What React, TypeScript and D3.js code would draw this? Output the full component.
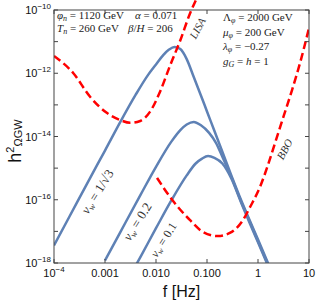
import React from "react";
import * as d3 from "d3";

// plot frame in px
const W = 316, H = 304;
const margin = { top: 10, right: 7, bottom: 41, left: 54 };

// v_w = 1/sqrt(3)
const freqA = [1e-4, 2e-4, 5e-4, 1e-3, 2e-3, 4e-3, 7e-3, 0.01, 0.014, 0.018, 0.023, 0.03, 0.04, 0.055, 0.075, 0.1, 0.14, 0.2, 0.3, 0.47, 0.7, 1.0, 1.6];
const omegaA = [3.6e-18, 2.9e-17, 4.6e-16, 3.6e-15, 2.9e-14, 2.1e-13, 8.9e-13, 1.9e-12, 3.8e-12, 5.6e-12, 6.8e-12, 5.8e-12, 2.8e-12, 7.6e-13, 2.1e-13, 6.2e-14, 1.5e-14, 3.3e-15, 5.9e-16, 9.5e-17, 2.1e-17, 5.5e-18, 9.3e-19];

// v_w = 0.2
const freqB = [1e-3, 2e-3, 5e-3, 0.01, 0.02, 0.03, 0.04, 0.055, 0.075, 0.11, 0.15, 0.2, 0.3, 0.47, 0.7, 1.0, 1.6];
const omegaB = [1.2e-18, 9.5e-18, 1.45e-16, 1.1e-15, 6.9e-15, 1.6e-14, 2.4e-14, 2.9e-14, 2.3e-14, 1.3e-14, 6.3e-15, 2.3e-15, 5.2e-16, 8.5e-17, 1.9e-17, 4.9e-18, 8.3e-19];

// v_w = 0.1
const freqC = [4e-3, 5e-3, 0.01, 0.02, 0.04, 0.06, 0.08, 0.105, 0.14, 0.2, 0.3, 0.47, 0.7, 1.0, 1.6];
const omegaC = [8.3e-19, 1.6e-18, 1.26e-17, 9.5e-17, 5.9e-16, 1.4e-15, 2.0e-15, 2.4e-15, 2.1e-15, 1.4e-15, 4.7e-16, 7.9e-17, 1.7e-17, 4.5e-18, 7.6e-19];

// sensitivity curves
const freqLISA = [1e-4, 2.4e-4, 5.1e-4, 1.1e-3, 2.0e-3, 3.1e-3, 4.9e-3, 7.6e-3, 0.012, 0.019, 0.03, 0.046, 0.061];
const omegaLISA = [3.5e-12, 1.0e-12, 1.8e-13, 5.5e-14, 3.3e-14, 2.7e-14, 3.1e-14, 6.0e-14, 2.6e-13, 1.8e-12, 1.1e-11, 7.5e-11, 2.1e-10];

const freqBBO = [0.0105, 0.019, 0.046, 0.084, 0.164, 0.28, 0.51, 0.7, 1.09, 1.57, 2.25, 3.24, 4.65, 6.67, 10];
const omegaBBO = [4.9e-16, 1.2e-16, 2.3e-17, 9.5e-18, 7.1e-18, 8.9e-18, 2.3e-17, 5.9e-17, 2.5e-16, 1.26e-15, 7.7e-15, 4.8e-14, 2.95e-13, 2.1e-12, 2.7e-11];

// ticks
const xTicks = [1e-4, 1e-3, 0.01, 0.1, 1, 10];
const xTickLabels = [["10", "−4"], ["0.001", ""], ["0.010", ""], ["0.100", ""], ["1", ""], ["10", ""]];
const yTicks = [1e-18, 1e-17, 1e-16, 1e-15, 1e-14, 1e-13, 1e-12, 1e-11, 1e-10];
const yLabelExps = [-10, -12, -14, -16, -18];

const blue = "#5e81b5";
const red = "#ff0000";
const frame = "#444";
const serif = "'Liberation Serif', 'DejaVu Serif', serif";
const sans = "'Liberation Sans', Arial, sans-serif";

const App = () => {
  const x0 = margin.left, x1 = W - margin.right;
  const y0 = H - margin.bottom, y1 = margin.top;

  const x = d3.scaleLog().domain([1e-4, 10]).range([x0, x1]);
  const y = d3.scaleLog().domain([1e-18, 1e-10]).range([y0, y1]);

  const line = d3
    .line<[number, number]>()
    .x((d) => x(d[0]))
    .y((d) => y(d[1]))
    .curve(d3.curveMonotoneX);

  const zip = (f: number[], o: number[]) => f.map((v, i) => [v, o[i]] as [number, number]);

  const blues = [zip(freqA, omegaA), zip(freqB, omegaB), zip(freqC, omegaC)];
  const reds = [zip(freqLISA, omegaLISA), zip(freqBBO, omegaBBO)];

  return (
    <svg width={W} height={H} style={{ position: "absolute", left: 0, top: 0 }}>
      <defs>
        <clipPath id="plot">
          <rect x={x0} y={0} width={x1 - x0} height={y0} />
        </clipPath>
      </defs>

      <g clipPath="url(#plot)" fill="none">
        {blues.map((d, i) => (
          <path key={"b" + i} d={line(d) || ""} stroke={blue} strokeWidth={2.5} />
        ))}
        {reds.map((d, i) => (
          <path key={"r" + i} d={line(d) || ""} stroke={red} strokeWidth={2.5} strokeDasharray="8,4" />
        ))}
      </g>

      {/* frame and ticks */}
      <rect x={x0} y={y1} width={x1 - x0} height={y0 - y1} fill="none" stroke={frame} strokeWidth={1} />
      {xTicks.map((t) => (
        <g key={"xt" + t} stroke={frame}>
          <line x1={x(t)} x2={x(t)} y1={y0} y2={y0 - 4} />
          <line x1={x(t)} x2={x(t)} y1={y1} y2={y1 + 4} />
        </g>
      ))}
      {yTicks.map((t) => (
        <g key={"yt" + t} stroke={frame}>
          <line x1={x0} x2={x0 + 4} y1={y(t)} y2={y(t)} />
          <line x1={x1} x2={x1 - 4} y1={y(t)} y2={y(t)} />
        </g>
      ))}

      {/* tick labels */}
      {xTicks.map((t, i) => (
        <text key={"xl" + t} x={x(t)} y={y0 + 14} textAnchor="middle" fontFamily={sans} fontSize={11} fill="#111">
          {xTickLabels[i][0]}
          {xTickLabels[i][1] && (
            <tspan fontSize={8} dy={-5}>{xTickLabels[i][1]}</tspan>
          )}
        </text>
      ))}
      {yLabelExps.map((e) => (
        <text key={"yl" + e} x={x0 - 3} y={y(Math.pow(10, e)) + 4} textAnchor="end" fontFamily={sans} fontSize={11} fill="#111">
          10<tspan fontSize={8} dy={-5}>{"−" + Math.abs(e)}</tspan>
        </text>
      ))}

      {/* axis titles */}
      <text x={(x0 + x1) / 2} y={297} textAnchor="middle" fontFamily={sans} fontSize={16} fill="#111">
        f [Hz]
      </text>
      <text transform="translate(21,141) rotate(-90)" textAnchor="middle" fontFamily={sans} fill="#111">
        <tspan fontSize={18}>h</tspan>
        <tspan fontSize={11} dy={-7}>2</tspan>
        <tspan fontSize={11} dy={8}>ΩGW</tspan>
      </text>

      {/* parameter annotations */}
      <g fontFamily={serif} fontSize={11} fill="#222">
        <text x={57} y={19}>
          <tspan fontStyle="italic">φ</tspan>
          <tspan fontStyle="italic" fontSize={8} dy={2}>n</tspan>
          <tspan dy={-2}> = 1120 GeV</tspan>
        </text>
        <text x={135} y={19}>
          <tspan fontStyle="italic">α</tspan> = 0.071
        </text>
        <text x={57} y={32}>
          <tspan fontStyle="italic">T</tspan>
          <tspan fontStyle="italic" fontSize={8} dy={2}>n</tspan>
          <tspan dy={-2}> = 260 GeV</tspan>
        </text>
        <text x={128} y={32}>
          <tspan fontStyle="italic">β</tspan>/<tspan fontStyle="italic">H</tspan> = 206
        </text>
        <text x={223} y={21}>
          Λ<tspan fontStyle="italic" fontSize={8} dy={2}>φ</tspan>
          <tspan dy={-2}> = 2000 GeV</tspan>
        </text>
        <text x={223} y={35.5}>
          <tspan fontStyle="italic">μ</tspan>
          <tspan fontStyle="italic" fontSize={8} dy={2}>φ</tspan>
          <tspan dy={-2}> = 200 GeV</tspan>
        </text>
        <text x={223} y={50}>
          <tspan fontStyle="italic">λ</tspan>
          <tspan fontStyle="italic" fontSize={8} dy={2}>φ</tspan>
          <tspan dy={-2}> = −0.27</tspan>
        </text>
        <text x={223} y={64.5}>
          <tspan fontStyle="italic">g</tspan>
          <tspan fontStyle="italic" fontSize={8} dy={2}>G</tspan>
          <tspan dy={-2}> = </tspan>
          <tspan fontStyle="italic">h</tspan> = 1
        </text>
      </g>

      {/* curve labels */}
      <g fontFamily={serif} fill="#333" textAnchor="middle">
        <text transform="translate(201,30) rotate(-62)" fontSize={11} fontStyle="italic">LISA</text>
        <text transform="translate(288,151) rotate(-62)" fontSize={11} fontStyle="italic">BBO</text>
        <text transform="translate(101,194) rotate(-58)" fontSize={13}>
          <tspan fontStyle="italic">v</tspan>
          <tspan fontStyle="italic" fontSize={9} dy={2}>w</tspan>
          <tspan dy={-2}> = 1/√3</tspan>
        </text>
        <text transform="translate(141,224) rotate(-58)" fontSize={13}>
          <tspan fontStyle="italic">v</tspan>
          <tspan fontStyle="italic" fontSize={9} dy={2}>w</tspan>
          <tspan dy={-2}> = 0.2</tspan>
        </text>
        <text transform="translate(167,242) rotate(-58)" fontSize={12}>
          <tspan fontStyle="italic">v</tspan>
          <tspan fontStyle="italic" fontSize={8} dy={2}>w</tspan>
          <tspan dy={-2}> = 0.1</tspan>
        </text>
      </g>
    </svg>
  );
};

export default App;
